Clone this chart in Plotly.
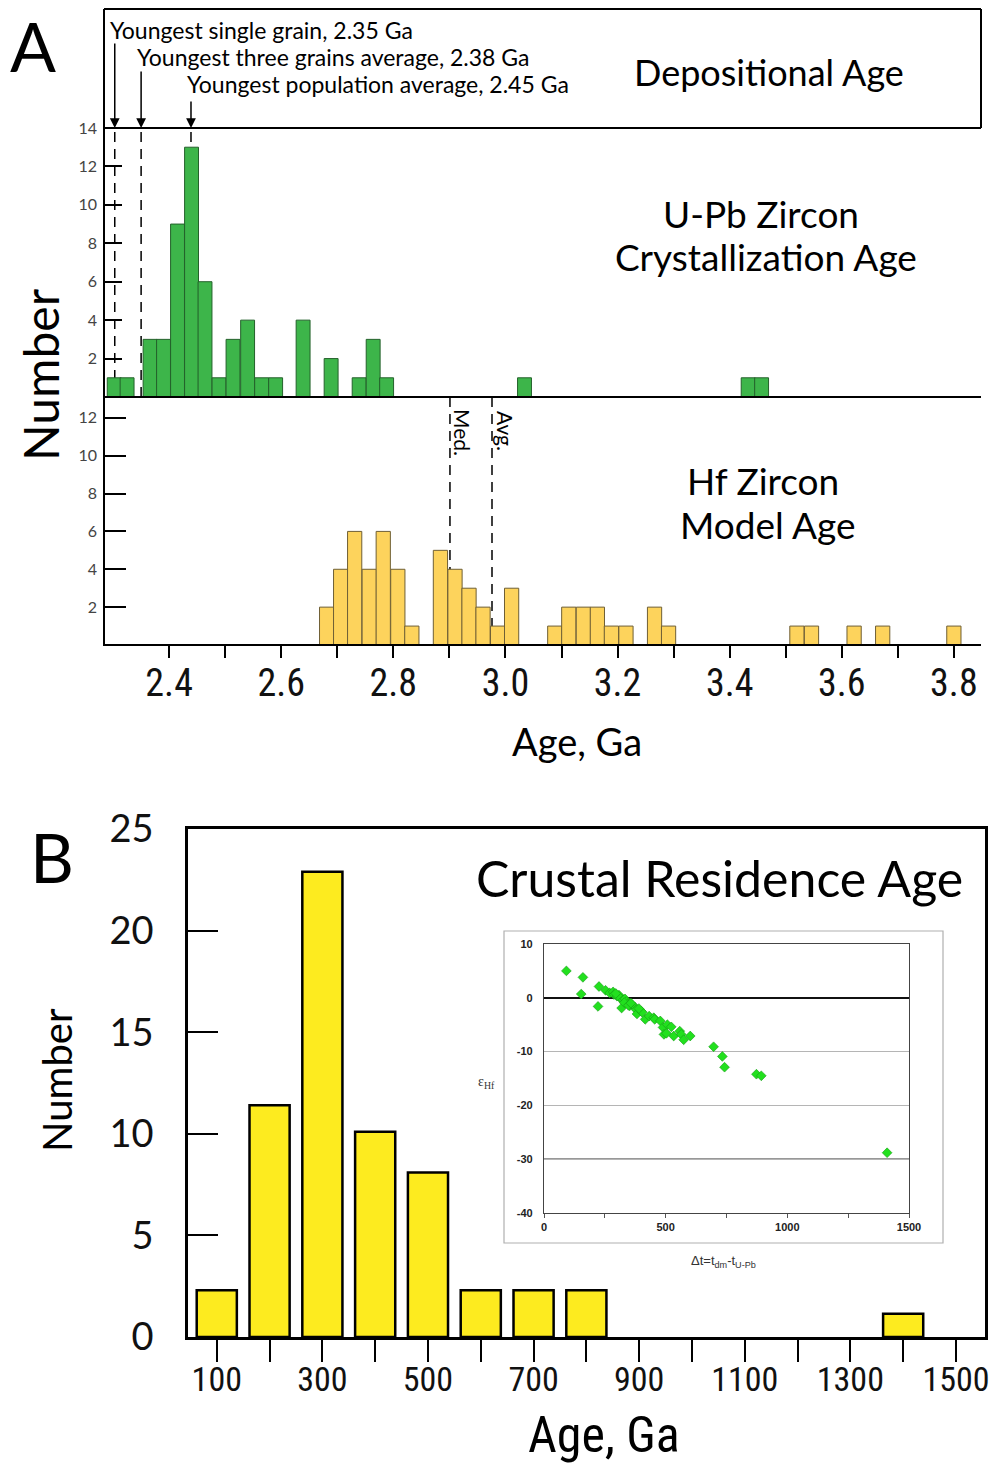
import plotly.graph_objects as go

W, H = 992, 1465
def px(x): return x / W
def py(y): return 1 - y / H

# ---------------- data ----------------
# Panel A, U-Pb zircon crystallization ages (Ga) - histogram bins
upb_age = [2.302, 2.325, 2.366, 2.390, 2.415, 2.440, 2.464, 2.489, 2.514, 2.540,
           2.565, 2.590, 2.639, 2.689, 2.739, 2.764, 2.788, 3.034, 3.433, 3.457]
upb_count = [1, 1, 3, 3, 9, 13, 6, 1, 3, 4, 1, 1, 4, 2, 1, 3, 1, 1, 1, 1]
upb_bin = 0.0248

# Panel A, Hf zircon model ages (Ga)
hf_age = [2.681, 2.706, 2.731, 2.757, 2.782, 2.808, 2.833, 2.884, 2.910, 2.935,
          2.960, 2.986, 3.011, 3.088, 3.113, 3.139, 3.164, 3.189, 3.215, 3.266,
          3.291, 3.520, 3.546, 3.622, 3.673, 3.800]
hf_count = [2, 4, 6, 4, 6, 4, 1, 5, 4, 3, 2, 1, 3, 1, 2, 2, 2, 1, 1, 2, 1, 1, 1, 1, 1, 1]
hf_bin = 0.0254

dep_labels = ["Youngest single grain, 2.35 Ga",
              "Youngest three grains average, 2.38 Ga",
              "Youngest population average, 2.45 Ga"]
dep_marker_x = [2.303, 2.350, 2.439]
hf_median, hf_average = 2.901, 2.976

a_tick_vals = [2.4, 2.5, 2.6, 2.7, 2.8, 2.9, 3.0, 3.1, 3.2, 3.3, 3.4, 3.5, 3.6, 3.7, 3.8]
a_tick_text = ["2.4", "", "2.6", "", "2.8", "", "3.0", "", "3.2", "", "3.4", "", "3.6", "", "3.8"]

# Panel B, crustal residence age
crust_age = [100, 200, 300, 400, 500, 600, 700, 800, 1400]
crust_count = [2.3, 11.4, 22.9, 10.1, 8.1, 2.3, 2.3, 2.3, 1.15]
crust_width = 76
b_tick_vals = [100, 200, 300, 400, 500, 600, 700, 800, 900, 1000, 1100, 1200, 1300, 1400, 1500]
b_tick_text = ["100", "", "300", "", "500", "", "700", "", "900", "", "1100", "", "1300", "", "1500"]

# Inset: eHf vs delta t
dt = [92, 153, 160, 222, 226, 253, 270, 284, 288, 300, 308, 314, 319, 325, 333,
      338, 345, 352, 363, 373, 379, 382, 400, 404, 416, 432, 451, 455, 478, 489,
      493, 503, 507, 523, 533, 558, 564, 574, 601, 697, 733, 742, 873, 893, 1410,
      295, 330, 347, 357, 390]
ehf = [5.0, 0.7, 3.8, -1.6, 2.1, 1.4, 0.9, 1.1, 0.6, 0.3, 0.5, -0.1, -1.9, -0.4, -0.2,
       -0.7, -1.1, -1.5, -1.3, -1.7, -2.2, -3.0, -2.5, -2.7, -4.0, -3.4, -3.7, -4.0, -4.3, -5.5,
       -6.8, -6.6, -5.0, -5.4, -7.1, -6.2, -6.8, -7.8, -7.1, -9.1, -10.9, -12.9, -14.2, -14.5, -28.8,
       0.8, -0.9, -1.4, -1.0, -2.0]
inset_y_ticks = [-40, -30, -20, -10, 0, 10]
inset_y_text = ["-40", "-30", "-20", "-10", "0", "10"]

# ---------------- styling ----------------
FONT = "Lato, 'Open Sans', sans-serif"
NARROW = "'Liberation Sans Narrow', 'Roboto Condensed', Roboto, sans-serif"
INSET = "'Liberation Sans', Arial, sans-serif"

fig = go.Figure()

fig.add_trace(go.Bar(x=upb_age, y=upb_count, width=[upb_bin] * len(upb_age),
                     marker=dict(color="#3db54a", line=dict(color="#24612b", width=1)),
                     xaxis="x", yaxis="y2", hoverinfo="skip"))
fig.add_trace(go.Bar(x=hf_age, y=hf_count, width=[hf_bin] * len(hf_age),
                     marker=dict(color="#fdd35c", line=dict(color="#6f5f35", width=1)),
                     xaxis="x", yaxis="y", hoverinfo="skip"))
fig.add_trace(go.Bar(x=crust_age, y=crust_count, width=[crust_width] * len(crust_age),
                     marker=dict(color="#fdeb1f", line=dict(color="black", width=2.5)),
                     xaxis="x3", yaxis="y3", hoverinfo="skip"))
fig.add_trace(go.Scatter(x=dt, y=ehf, mode="markers",
                         marker=dict(symbol="diamond", size=7.5, color="#22e01e",
                                     line=dict(color="#159a15", width=0.6)),
                         xaxis="x4", yaxis="y4", hoverinfo="skip"))

shapes = []
LW = 2
def pline(x0, y0, x1, y1, w=LW, color="black"):
    shapes.append(dict(type="line", xref="paper", yref="paper",
                       x0=px(x0), y0=py(y0), x1=px(x1), y1=py(y1),
                       line=dict(color=color, width=w), layer="above"))

# panel A frame
pline(104, 9, 981, 9)
pline(104, 128, 981, 128)
pline(981, 9, 981, 128)
pline(104, 9, 104, 646)
pline(104, 397, 981, 397)
pline(104, 645, 981, 645)

# dashed marker lines (U-Pb panel)
for xv in dep_marker_x:
    shapes.append(dict(type="line", xref="x", yref="y2", x0=xv, x1=xv, y0=0, y1=14,
                       line=dict(color="black", width=1.5, dash="10px,7px"), layer="below"))
# median / average lines (Hf panel)
for xv in (hf_median, hf_average):
    shapes.append(dict(type="line", xref="x", yref="y", x0=xv, x1=xv, y0=0, y1=13.1,
                       line=dict(color="black", width=1.5, dash="10px,7px"), layer="below"))

# inset outer box
shapes.append(dict(type="rect", xref="paper", yref="paper",
                   x0=px(504), y0=py(1243), x1=px(943), y1=py(931),
                   line=dict(color="#b0b0b0", width=1.2), fillcolor="white", layer="below"))
# inset -30 line
shapes.append(dict(type="line", xref="x4", yref="y4", x0=0, x1=1500, y0=-30, y1=-30,
                   line=dict(color="#333", width=1.2), layer="below"))

ann = []
def text(x, y, t, size, anchor="center", angle=0, color="black", font=FONT):
    ann.append(dict(x=px(x), y=py(y), xref="paper", yref="paper", text=t, showarrow=False,
                    xanchor=anchor, yanchor="middle", textangle=angle,
                    font=dict(family=font, size=size, color=color)))

text(33, 45, "A", 68)
text(40, 375, "Number", 48, angle=-90)
text(108, 30, dep_labels[0], 23, anchor="left")
text(135, 57, dep_labels[1], 23, anchor="left")
text(185, 84, dep_labels[2], 23, anchor="left")
text(769, 72, "Depositional Age", 36)
text(761, 213, "U-Pb Zircon", 37)
text(766, 256, "Crystallization Age", 37)
text(763, 481, "Hf Zircon", 37)
text(768, 524, "Model Age", 37)
text(463, 432, "Med.", 21, angle=90)
text(506, 431, "Avg.", 21, angle=90)
text(577, 741, "Age, Ga", 38)

text(52, 857, "B", 68)
text(57, 1080, "Number", 40, angle=-90)
text(719, 878, "Crustal Residence Age", 50)
text(604, 1435, "Age, Ga", 50, font=NARROW)
text(486, 1082, "ε<sub>Hf</sub>", 14, color="#333", font="'Liberation Serif', serif")
text(723, 1261, "Δt=t<sub>dm</sub>-t<sub>U-Pb</sub>", 13, color="#333", font=INSET)

start_y = [42, 70, 100]
for xv, sy in zip(dep_marker_x, start_y):
    ann.append(dict(x=xv, y=py(128), xref="x", yref="paper", text="", showarrow=True,
                    ax=0, ay=-(128 - sy), axref="pixel", ayref="pixel",
                    arrowhead=2, arrowsize=1.3, arrowwidth=1.5, arrowcolor="black", standoff=0))

fig.update_layout(
    width=W, height=H, margin=dict(l=0, r=0, t=0, b=0, autoexpand=False),
    paper_bgcolor="white", plot_bgcolor="rgba(0,0,0,0)",
    showlegend=False, barmode="overlay",
    shapes=shapes, annotations=ann,
    xaxis=dict(domain=[px(104), px(981)], range=[2.2838, 3.8484], anchor="y", automargin=False,
               tickmode="array", tickvals=a_tick_vals, ticktext=a_tick_text,
               ticks="outside", ticklen=12, tickwidth=2, tickcolor="black",
               tickfont=dict(family=NARROW, size=38, color="#111"), ticklabelstandoff=-8,
               showgrid=False, zeroline=False, showline=False),
    yaxis=dict(domain=[py(645), py(397)], range=[0, 13.1], anchor="x", automargin=False,
               tickmode="array", tickvals=[2, 4, 6, 8, 10, 12],
               ticks="inside", ticklen=22, tickwidth=2, tickcolor="black",
               tickfont=dict(family=FONT, size=16, color="#444"), ticklabelstandoff=6,
               showgrid=False, zeroline=False, showline=False),
    yaxis2=dict(domain=[py(397), py(128)], range=[0, 14], anchor="x", automargin=False,
                tickmode="array", tickvals=[2, 4, 6, 8, 10, 12, 14],
                ticks="inside", ticklen=18, tickwidth=2, tickcolor="black",
                tickfont=dict(family=FONT, size=16, color="#444"), ticklabelstandoff=6,
                showgrid=False, zeroline=False, showline=False),
    xaxis3=dict(domain=[px(188), px(985)], range=[45.5, 1555], anchor="y3", automargin=False,
                tickmode="array", tickvals=b_tick_vals, ticktext=b_tick_text,
                ticks="outside", ticklen=22, tickwidth=2, tickcolor="black",
                tickfont=dict(family=NARROW, size=34, color="#111"), ticklabelstandoff=-12,
                showgrid=False, zeroline=False, showline=True, mirror=True,
                linecolor="black", linewidth=2.5),
    yaxis3=dict(domain=[py(1337), py(829)], range=[0, 25], anchor="x3", automargin=False,
                tickmode="array", tickvals=[0, 5, 10, 15, 20, 25],
                ticks="inside", ticklen=30, tickwidth=2, tickcolor="black",
                tickfont=dict(family=FONT, size=38, color="#111"), ticklabelstandoff=24,
                showgrid=False, zeroline=False, showline=True, mirror=True,
                linecolor="black", linewidth=2.5),
    xaxis4=dict(domain=[px(544), px(909)], range=[0, 1500], anchor="y4", automargin=False,
                tickmode="array", tickvals=[0, 250, 500, 750, 1000, 1250, 1500],
                ticktext=["0", "", "500", "", "1000", "", "1500"],
                ticks="outside", ticklen=4, tickwidth=1, tickcolor="#555",
                tickfont=dict(family=INSET, size=11, color="#222", weight="bold"),
                showgrid=False, zeroline=False, showline=True, mirror=True,
                linecolor="#444", linewidth=1.2),
    yaxis4=dict(domain=[py(1213), py(944)], range=[-40, 10], anchor="x4", automargin=False,
                tickmode="array", tickvals=inset_y_ticks, ticktext=inset_y_text,
                ticks="", ticklabelstandoff=8,
                tickfont=dict(family=INSET, size=11, color="#222", weight="bold"),
                showgrid=True, gridcolor="#b5b5b5", gridwidth=1,
                zeroline=True, zerolinecolor="#111", zerolinewidth=1.5,
                showline=True, mirror=True, linecolor="#444", linewidth=1.2),
)

fig.write_html("out.html")
